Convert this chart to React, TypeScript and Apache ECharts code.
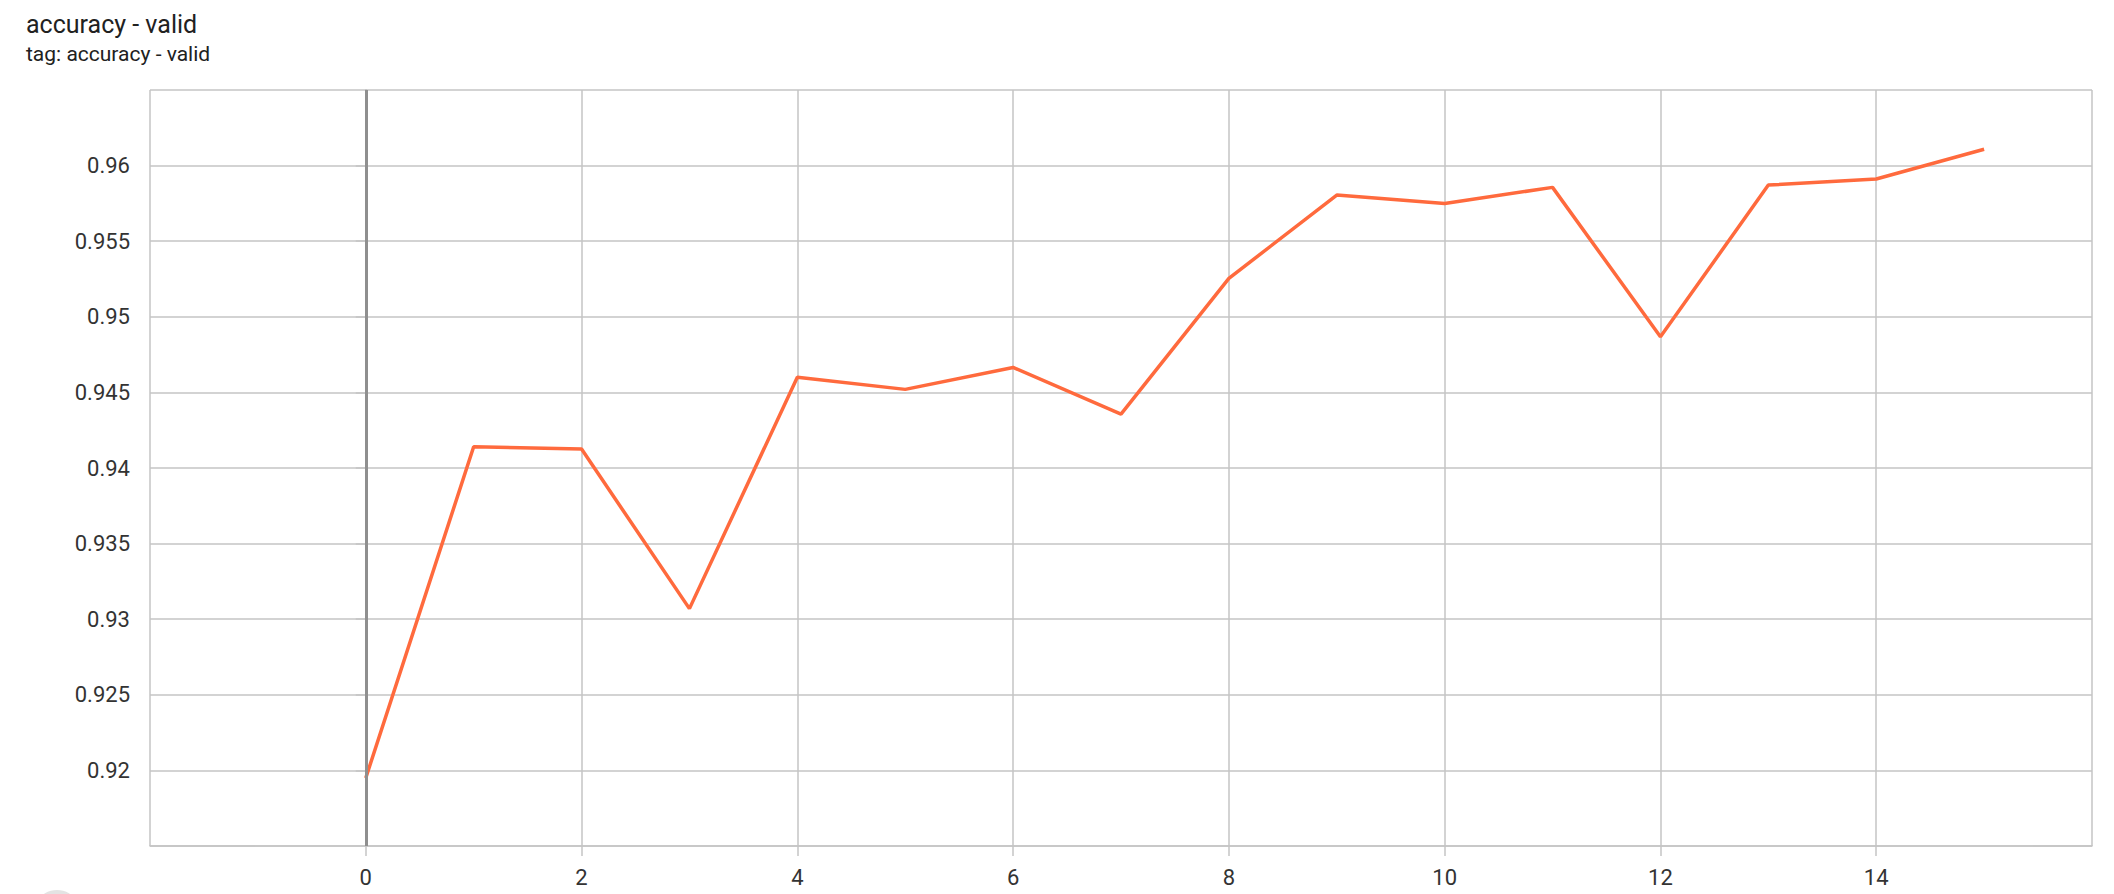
import React, { useEffect, useRef } from "react";
import * as echarts from "echarts";

const steps = [0, 1, 2, 3, 4, 5, 6, 7, 8, 9, 10, 11, 12, 13, 14, 15];
const accuracy = [
  0.9195, 0.9414, 0.94125, 0.9307, 0.946, 0.9452, 0.94665, 0.94356, 0.95254,
  0.95805, 0.9575, 0.95856, 0.94868, 0.95871, 0.95911, 0.96108,
];
const titleText = "accuracy - valid";
const subText = "tag: accuracy - valid";

export default function App() {
  const ref = useRef<HTMLDivElement>(null);
  useEffect(() => {
    document.body.style.margin = "0";
    const chart = echarts.init(ref.current!, undefined, { renderer: "svg" });
    const gridColor = "#c4c4c4";
    chart.setOption({
      animation: false,
      backgroundColor: "#ffffff",
      textStyle: { fontFamily: "Roboto" },
      graphic: [
        {
          type: "text",
          left: 26,
          top: 12,
          style: { text: titleText, font: "25px Roboto", fill: "#212121" },
        },
        {
          type: "text",
          left: 26,
          top: 43,
          style: { text: subText, font: "21px Roboto", fill: "#212121" },
        },
        {
          type: "circle",
          shape: { cx: 57, cy: 914, r: 24 },
          style: { fill: "#e3e3e3" },
        },
      ],
      grid: { left: 150, right: 22, top: 90, bottom: 48, containLabel: false },
      xAxis: {
        type: "value",
        min: -2,
        max: 16,
        interval: 2,
        axisLine: { show: true, onZero: false, lineStyle: { color: gridColor, width: 1.5 } },
        axisTick: { show: true, length: 10, lineStyle: { color: gridColor, width: 1.5 } },
        axisLabel: {
          showMinLabel: false,
          showMaxLabel: false,
          fontSize: 22,
          color: "#333333",
          margin: 20,
          fontFamily: "Roboto",
        },
        splitLine: { show: true, lineStyle: { color: gridColor, width: 1.5 } },
      },
      yAxis: {
        type: "value",
        min: 0.915,
        max: 0.965,
        interval: 0.005,
        axisLine: { show: true, lineStyle: { color: "#b5b5b5", width: 1.5 } },
        axisTick: { show: true, length: 10, lineStyle: { color: gridColor, width: 1.5 } },
        axisLabel: {
          showMinLabel: false,
          showMaxLabel: false,
          fontSize: 22,
          color: "#333333",
          margin: 20,
          fontFamily: "Roboto",
          formatter: (v: number) => String(+v.toFixed(3)),
        },
        splitLine: { show: true, lineStyle: { color: gridColor, width: 1.5 } },
      },
      series: [
        {
          type: "line",
          data: steps.map((s, i) => [s, accuracy[i]]),
          showSymbol: false,
          symbol: "none",
          lineStyle: { color: "#ff6a3d", width: 3.5 },
          itemStyle: { color: "#ff6a3d" },
          markLine: {
            silent: true,
            symbol: ["none", "none"],
            label: { show: false },
            lineStyle: { color: "#8f8f8f", width: 3, type: "solid" },
            data: [{ xAxis: 0 }],
          },
        },
      ],
    });
    return () => chart.dispose();
  }, []);
  return <div ref={ref} style={{ width: 2114, height: 894 }} />;
}
